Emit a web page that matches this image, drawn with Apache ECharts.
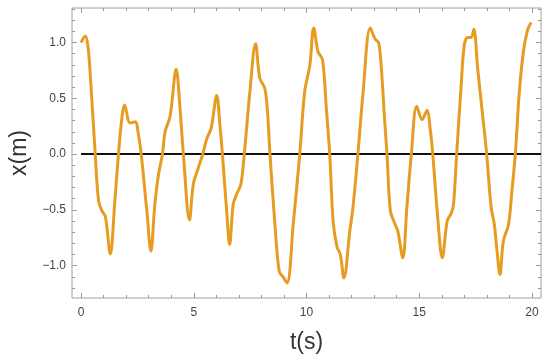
<!DOCTYPE html>
<html>
<head>
<meta charset="utf-8">
<script src="https://cdn.jsdelivr.net/npm/echarts@6/dist/echarts.min.js"></script>
<style>
html, body { margin: 0; padding: 0; background: #fff; }
#main { width: 550px; height: 363px; }
</style>
</head>
<body>
<div id="main"></div>
<script>
// t (s) and x (m)
var timeValues = [0.0, 0.19, 0.30, 0.41, 0.63, 0.78, 0.93, 1.08, 1.30, 1.49, 1.66, 1.81, 1.93, 2.18, 2.40, 2.55, 2.67, 2.92, 3.10, 3.27, 3.43, 3.61, 3.73, 3.95, 4.22, 4.39, 4.54, 4.81, 4.98, 5.20, 5.40, 5.58, 5.77, 6.02, 6.16, 6.27, 6.46, 6.59, 6.75, 6.90, 7.09, 7.24, 7.49, 7.74, 7.93, 8.15, 8.27, 8.38, 8.60, 8.79, 8.96, 9.14, 9.41, 9.70, 9.92, 10.15, 10.32, 10.51, 10.71, 10.88, 11.03, 11.18, 11.35, 11.50, 11.66, 11.92, 12.06, 12.28, 12.50, 12.83, 13.05, 13.20, 13.32, 13.46, 13.57, 13.72, 13.91, 14.05, 14.27, 14.45, 14.65, 14.89, 15.13, 15.34, 15.50, 15.60, 15.82, 16.02, 16.24, 16.42, 16.52, 16.66, 16.86, 17.00, 17.15, 17.30, 17.42, 17.59, 17.81, 17.99, 18.19, 18.33, 18.45, 18.58, 18.73, 18.96, 19.11, 19.26, 19.44, 19.62, 19.80, 19.96];
var positionValues = [1.00, 1.06, 0.98, 0.71, 0, -0.42, -0.51, -0.56, -0.895, -0.45, 0, 0.32, 0.44, 0.28, 0.29, 0.17, 0, -0.51, -0.87, -0.46, -0.19, 0, 0.20, 0.34, 0.76, 0.41, 0, -0.59, -0.27, -0.125, 0, 0.14, 0.23, 0.525, 0.26, 0, -0.51, -0.81, -0.45, -0.36, -0.27, 0, 0.56, 0.99, 0.68, 0.59, 0.38, 0, -0.63, -1.05, -1.10, -1.155, -0.63, 0, 0.56, 0.80, 1.13, 0.92, 0.845, 0.41, 0, -0.60, -0.83, -0.90, -1.11, -0.69, -0.48, 0, 0.53, 1.13, 1.03, 1.00, 0.77, 0.32, 0, -0.51, -0.62, -0.69, -0.93, -0.48, 0, 0.43, 0.31, 0.39, 0.20, 0, -0.57, -0.93, -0.60, -0.53, -0.45, 0, 0.62, 0.98, 1.045, 1.045, 1.12, 0.77, 0.35, 0, -0.48, -0.63, -0.87, -1.08, -0.78, -0.63, -0.33, 0, 0.56, 0.92, 1.11, 1.18];

var xMajor = [0, 5, 10, 15, 20];
var xMinor = [1, 2, 3, 4, 6, 7, 8, 9, 11, 12, 13, 14, 16, 17, 18, 19];
var yMajor = [-1.0, -0.5, 0.0, 0.5, 1.0];
var yMinor = [-1.2, -1.1, -0.9, -0.8, -0.7, -0.6, -0.4, -0.3, -0.2, -0.1, 0.1, 0.2, 0.3, 0.4, 0.6, 0.7, 0.8, 0.9, 1.1, 1.2, 1.3];
var zeroLine = [[0, 0], [20.4, 0]];

var curve = timeValues.map(function (t, i) { return [t, positionValues[i]]; });

var tickColor = '#999';
var labelStyle = { color: '#444', fontSize: 12, fontFamily: 'Liberation Sans, Arial, sans-serif' };

function xAx(pos, vals, len, labels) {
    return {
        type: 'value', position: pos, min: -0.4, max: 20.4,
        axisLine: { show: false, onZero: false },
        splitLine: { show: false },
        axisTick: { show: true, inside: true, length: len, customValues: vals, lineStyle: { color: tickColor } },
        axisLabel: labels ? Object.assign({ customValues: vals, margin: 9 }, labelStyle) : { show: false }
    };
}
function yAx(pos, vals, len, labels) {
    return {
        type: 'value', position: pos, min: -1.29, max: 1.31,
        axisLine: { show: false, onZero: false },
        splitLine: { show: false },
        axisTick: { show: true, inside: true, length: len, customValues: vals, lineStyle: { color: tickColor } },
        axisLabel: labels ? Object.assign({
            customValues: vals, margin: 6,
            formatter: function (v) { return v.toFixed(1).replace('-', '\u2212'); }
        }, labelStyle) : { show: false }
    };
}

var xAxes = [xAx('bottom', xMajor, 5, true), xAx('bottom', xMinor, 3, false), xAx('top', xMajor, 5, false), xAx('top', xMinor, 3, false)];
var yAxes = [yAx('left', yMajor, 5, true), yAx('left', yMinor, 3, false), yAx('right', yMajor, 5, false), yAx('right', yMinor, 3, false)];
xAxes[0].name = 't(s)';
xAxes[0].nameLocation = 'middle';
xAxes[0].nameGap = 33;
xAxes[0].nameTextStyle = { fontSize: 23, color: '#333', fontFamily: 'Liberation Sans, Arial, sans-serif' };
yAxes[0].name = 'x(m)';
yAxes[0].nameLocation = 'middle';
yAxes[0].nameGap = 35;
yAxes[0].nameTextStyle = { fontSize: 23, color: '#333', fontFamily: 'Liberation Sans, Arial, sans-serif' };

var myChart = echarts.init(document.getElementById('main'));
var option = {
    animation: false,
    grid: { left: 72, right: 9, top: 8, bottom: 65, show: true, borderColor: '#a0a0a0', borderWidth: 1 },
    xAxis: xAxes,
    yAxis: yAxes,
    series: [{
        type: 'line',
        data: zeroLine,
        symbol: 'none',
        lineStyle: { color: '#111', width: 2 },
        clip: true,
        z: 2
    }, {
        type: 'line',
        data: curve,
        symbol: 'none',
        smooth: 0.35,
        lineStyle: { color: '#E59C20', width: 3 },
        clip: true,
        z: 3
    }]
};
myChart.setOption(option);
</script>
</body>
</html>
